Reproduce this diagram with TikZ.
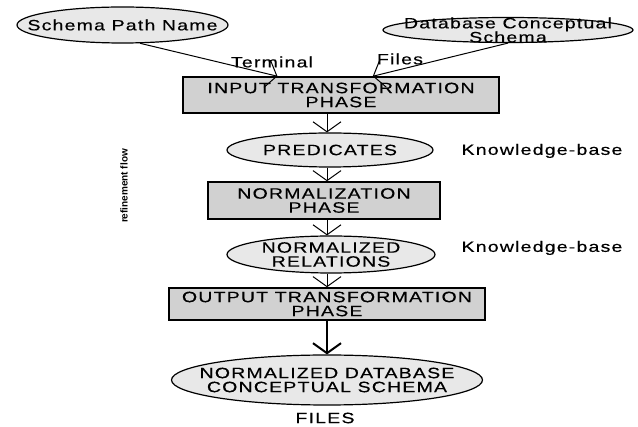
\documentclass[tikz,border=0pt]{standalone}
\usepackage{fontspec}
\setmainfont{Liberation Sans}
\newfontfamily\flowfont[FakeStretch=1.3,LetterSpace=8,FakeBold=0.4]{Liberation Sans}
\usetikzlibrary{arrows.meta,calc,positioning,shapes.geometric}
\definecolor{phaseGray}{gray}{0.82}
\definecolor{dataGray}{gray}{0.91}

\begin{document}
\begin{tikzpicture}[x=1pt,y=-1pt,
    every node/.style={font=\flowfont\fontsize{15}{14}\selectfont},
    data/.style={ellipse,draw=black,fill=dataGray,line width=1.2pt,inner sep=0pt},
    phase/.style={rectangle,draw=black,fill=phaseGray,line width=1.5pt,inner sep=0pt,align=center},
    flow/.style={-{Straight Barb[length=10pt,width=28pt]},line width=1pt}]

      \useasboundingbox (0,0) rectangle (638,427);

      % draw the data ellipses
      \node[data,minimum width=211,minimum height=36] (spn) at (122.5,25) {};
      \node[data,minimum width=250,minimum height=25] (dbcs) at (508,30) {};
      \node[data,minimum width=206,minimum height=34] (pred) at (330,150) {};
      \node[data,minimum width=208,minimum height=37] (rel) at (331,254.5) {};
      \node[data,minimum width=311,minimum height=50] (ncs) at (327,380) {};
      \node (spn-txt) at (spn) {Schema Path Name};
      \node[align=center] (dbcs-txt) at (dbcs) {Database Conceptual\\Schema};
      \node (pred-txt) at (pred) {PREDICATES};
      \node[align=center] (rel-txt) at (rel) {NORMALIZED\\RELATIONS};
      \node[align=center] (ncs-txt) at (ncs) {NORMALIZED DATABASE\\CONCEPTUAL SCHEMA};

      % draw the phase boxes
      \node[phase,minimum width=316,minimum height=36] (inbox) at (341,95) {INPUT TRANSFORMATION\\PHASE};
      \node[phase,minimum width=232,minimum height=37] (normbox) at (324,200.5) {NORMALIZATION\\PHASE};
      \node[phase,minimum width=316,minimum height=32] (outbox) at (327,304) {OUTPUT TRANSFORMATION\\PHASE};

      % the inputs
      \draw[flow] (spn.-46) -- ($(inbox.north west)!0.3!(inbox.north east)$);
      \draw[flow] (dbcs.south) -- ($(inbox.north west)!0.6!(inbox.north east)$);
      \node (terminal) at (272,62) {Terminal};
      \node (files-in) at (400,59) {Files};

      % the refinement column
      \coordinate (spine) at (327,0);
      \foreach \a/\b in {inbox/pred, pred/normbox, normbox/rel, rel/outbox}
        \draw[flow] (\a.south -| spine) -- (\b.north -| spine);
      \draw[flow,line width=2pt] (outbox.south -| spine) -- (ncs.north -| spine);

      % side labels
      \node (kb1) at (542,151) {Knowledge-base};
      \node (kb2) at (542,248) {Knowledge-base};
      \node (files-out) at (325,418) {FILES};
      \node[rotate=90,font=\fontsize{10}{10}\selectfont\bfseries] (refine) at (124,186) {refinement flow};

\end{tikzpicture}
\end{document}
